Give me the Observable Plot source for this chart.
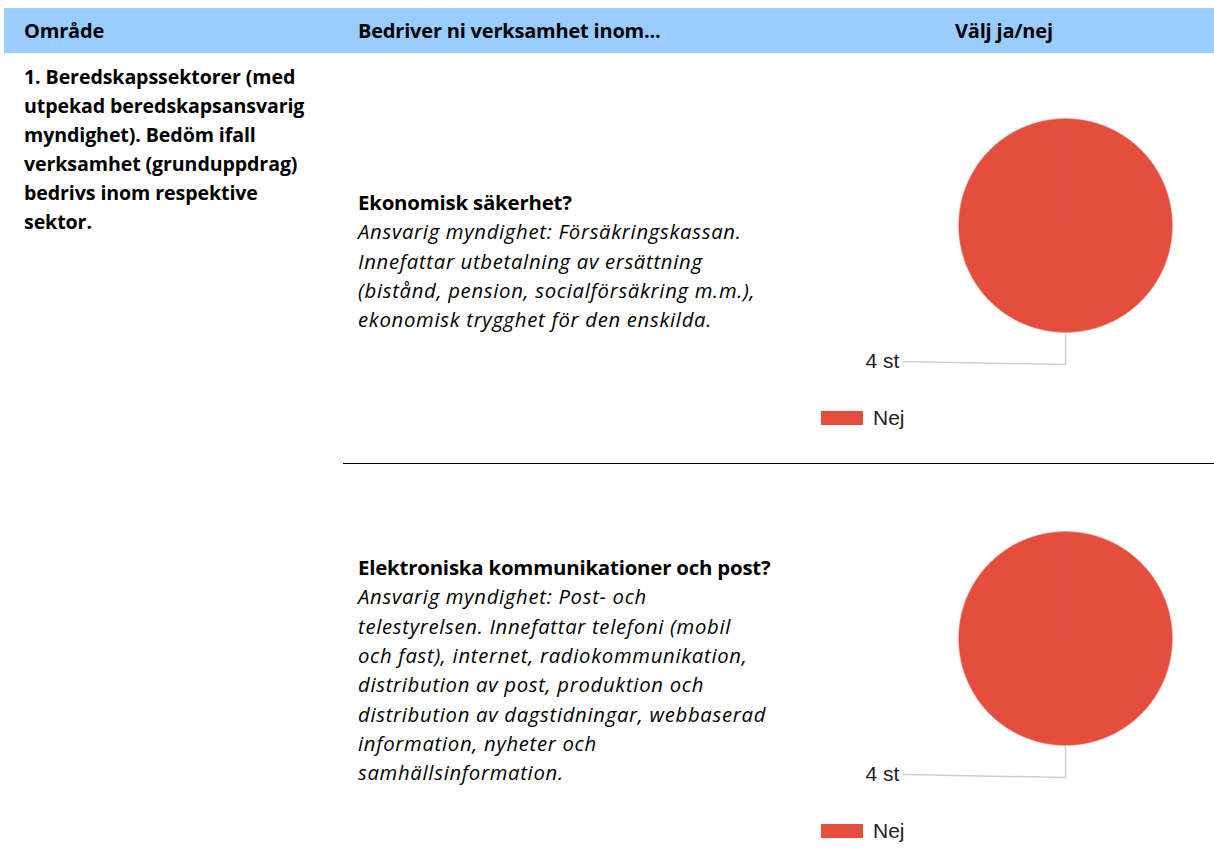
<!DOCTYPE html>
<html>
<head>
<meta charset="utf-8">
<script src="https://cdn.jsdelivr.net/npm/d3@7"></script>
<script src="https://cdn.jsdelivr.net/npm/@observablehq/plot@0.6"></script>
<style>
  html, body { margin: 0; padding: 0; background: #fff; }
  body { width: 1214px; height: 868px; position: relative; overflow: hidden; font-family: "Open Sans", Lato, sans-serif; color: #000; }
  .band { position: absolute; left: 4px; top: 8px; width: 1210px; height: 45px; background: #99CCFF; }
  .hdr { position: absolute; top: 8px; height: 45px; line-height: 45px; font-weight: 700; font-size: 20px; letter-spacing: -0.2px; }
  .block { position: absolute; }
  .block .b { font-weight: 700; font-size: 20.4px; line-height: 29.4px; letter-spacing: -0.2px; }
  .block .i { font-style: italic; font-size: 20.3px; line-height: 29.3px; letter-spacing: 0.7px; }
  .left { position: absolute; left: 24px; top: 62px; font-weight: 700; font-size: 19.6px; line-height: 29px; letter-spacing: -0.1px; }
  .sep { position: absolute; left: 343px; top: 463px; width: 871px; height: 0; border-top: 1.5px solid #000; }
  .pie { position: absolute; left: 840px; }
  .legend { position: absolute; left: 821px; font-family: "Liberation Sans", Arial, sans-serif; font-size: 21px; color: #222; display: flex; align-items: center; }
  .legend .sw { width: 42px; height: 14px; margin-right: 10px; }
</style>
</head>
<body>
<div class="band"></div>
<script>
// ---- data ----
const headers = ["Område", "Bedriver ni verksamhet inom...", "Välj ja/nej"];
const areaLines = [
  "1. Beredskapssektorer (med",
  "utpekad beredskapsansvarig",
  "myndighet). Bedöm ifall",
  "verksamhet (grunduppdrag)",
  "bedrivs inom respektive",
  "sektor."
];
const q1Title = "Ekonomisk säkerhet?";
const q1Lines = [
  "Ansvarig myndighet: Försäkringskassan.",
  "Innefattar utbetalning av ersättning",
  "(bistånd, pension, socialförsäkring m.m.),",
  "ekonomisk trygghet för den enskilda."
];
const q2Title = "Elektroniska kommunikationer och post?";
const q2Lines = [
  "Ansvarig myndighet: Post- och",
  "telestyrelsen. Innefattar telefoni (mobil",
  "och fast), internet, radiokommunikation,",
  "distribution av post, produktion och",
  "distribution av dagstidningar, webbaserad",
  "information, nyheter och",
  "samhällsinformation."
];
const categories = ["Nej"];
const q1Values = [4];
const q2Values = [4];
const unit = "st";
const colors = ["#E54E3D"];

// ---- layout ----
const body = document.body;
function add(html, cls, style) {
  const d = document.createElement("div");
  d.className = cls;
  d.innerHTML = html;
  Object.assign(d.style, style || {});
  body.appendChild(d);
  return d;
}
const hdrX = [24, 358, 955];
headers.forEach((h, i) => add(h, "hdr", {left: hdrX[i] + "px"}));
add(areaLines.join("<br>"), "left");
add(`<div class="b">${q1Title}</div><div class="i">${q1Lines.join("<br>")}</div>`, "block", {left: "358px", top: "188px"});
add(`<div class="b">${q2Title}</div><div class="i">${q2Lines.join("<br>")}</div>`, "block", {left: "358px", top: "553px"});
add("", "sep");

const R = 107; // pixel radius
const W = 374, H = 270;
const cx = 1065 - 840, cy = 115; // center within svg

function piePlot(values) {
  const data = categories.map((c, i) => ({cat: c, value: values[i]}));
  const arcs = d3.pie().sort(null).value(d => d.value)(data);
  const poly = [];
  arcs.forEach(a => {
    const n = Math.max(2, Math.ceil((a.endAngle - a.startAngle) / 0.01));
    if (a.endAngle - a.startAngle < 2 * Math.PI - 1e-6) poly.push({cat: a.data.cat, x: 0, y: 0});
    for (let k = 0; k <= n; k++) {
      const t = a.startAngle + (a.endAngle - a.startAngle) * k / n;
      poly.push({cat: a.data.cat, x: Math.sin(t), y: Math.cos(t)});
    }
  });
  const edges = arcs.map(a => ({x1: 0, y1: 0, x2: Math.sin(a.startAngle), y2: Math.cos(a.startAngle)}));
  const leaders = [], labels = [];
  arcs.forEach(a => {
    const m = (a.startAngle + a.endAngle) / 2;
    const px = Math.sin(m), py = Math.cos(m);
    const ex = -1.515, ey = py - 0.27;
    leaders.push({id: a.data.cat, x: px, y: py});
    leaders.push({id: a.data.cat, x: px, y: py - 0.30});
    leaders.push({id: a.data.cat, x: ex, y: ey});
    labels.push({x: ex, y: ey, text: `${a.data.value} ${unit}`});
  });
  const xd = [-cx / R, (W - cx) / R];
  const yd = [-(H - cy) / R, cy / R];
  return Plot.plot({
    width: W, height: H,
    margin: 0,
    x: {domain: xd, range: [0, W], axis: null},
    y: {domain: yd, range: [H, 0], axis: null},
    color: {domain: categories, range: colors},
    style: {background: "transparent", overflow: "visible"},
    marks: [
      Plot.line(leaders, {x: "x", y: "y", z: "id", stroke: "#cfcfcf", strokeWidth: 1.5}),
      Plot.line(poly, {x: "x", y: "y", z: "cat", fill: "cat", stroke: "#e0b5b0", strokeWidth: 0.6, curve: "linear-closed"}),
      Plot.link(edges, {x1: "x1", y1: "y1", x2: "x2", y2: "y2", stroke: "#c95a50", strokeWidth: 1, strokeOpacity: 0.7}),
      Plot.text(labels, {x: "x", y: "y", text: "text", textAnchor: "end", dx: -4, fontSize: 21, fill: "#222", fontFamily: "Liberation Sans, Arial, sans-serif"})
    ]
  });
}

function placePie(values, top, legendTop) {
  const wrap = document.createElement("div");
  wrap.className = "pie";
  wrap.style.top = top + "px";
  wrap.appendChild(piePlot(values));
  body.appendChild(wrap);
  categories.forEach((c, i) => {
    add(`<div class="sw" style="background:${colors[i]}"></div><span>${c}</span>`, "legend", {top: legendTop + "px"});
  });
}
placePie(q1Values, 110, 406);
placePie(q2Values, 523, 819);
</script>
</body>
</html>
